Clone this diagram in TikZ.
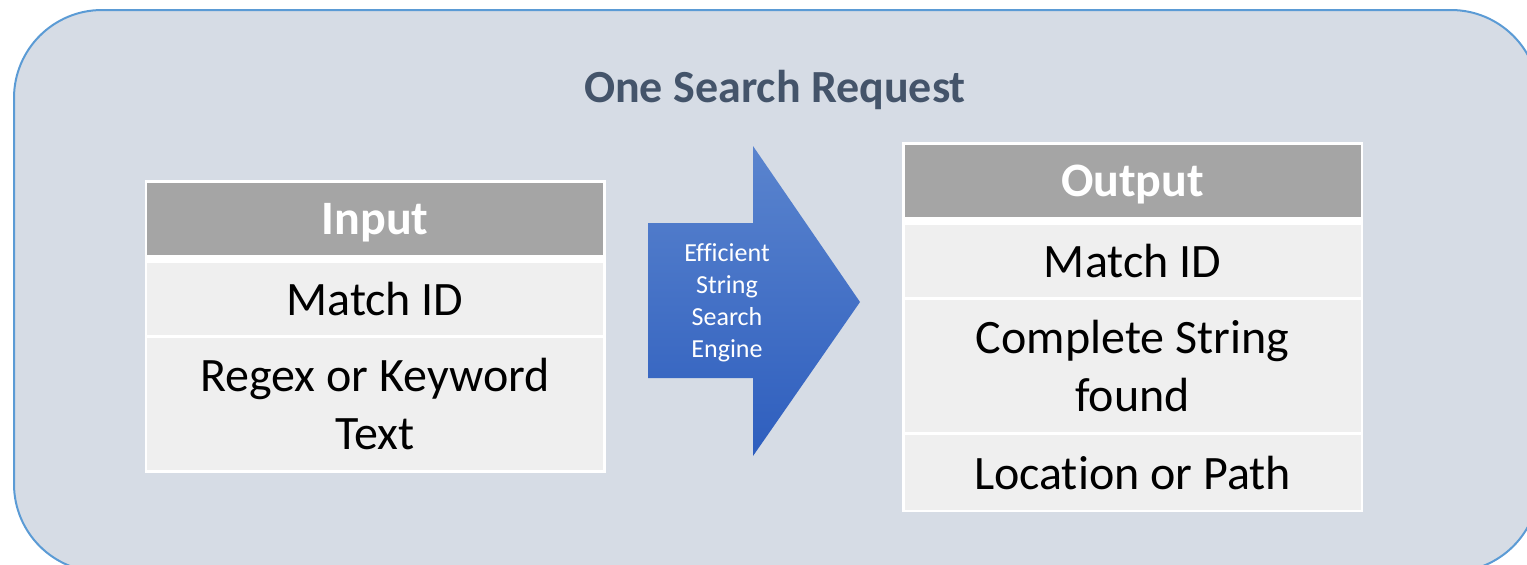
\documentclass[tikz,border=0pt]{standalone}
\usepackage{fontspec}
\setmainfont[Ligatures=CommonOff]{Carlito}
\usetikzlibrary{positioning}

\definecolor{bgfill}{HTML}{D6DCE5}
\definecolor{bgline}{HTML}{5B9BD5}
\definecolor{hdgray}{HTML}{A5A5A5}
\definecolor{rowgray}{HTML}{EFEFEF}
\definecolor{titcol}{HTML}{44546A}
\definecolor{artop}{HTML}{5A84CE}
\definecolor{arbot}{HTML}{2E5EBE}

\tikzstyle{tb0}=[rectangle,fill=white,minimum width=230.5pt,inner sep=0pt]
\tikzstyle{tb1}=[rectangle,fill=hdgray,minimum width=228pt,minimum height=36pt,inner sep=0pt,text depth=0pt,align=center,text=white,font=\fontsize{24}{28.5}\selectfont\bf]
\tikzstyle{tb2}=[rectangle,fill=rowgray,minimum width=228pt,inner sep=0pt,align=center,font=\fontsize{24}{28.5}\selectfont]

\begin{document}
\begin{tikzpicture}[x=0.5pt,y=-0.5pt]
\useasboundingbox (0,0) rectangle (1527,564);

%Outer box and title
\node [rectangle,fill=bgfill,draw=bgline,line width=1pt,rounded corners=44pt,minimum width=762.5pt,minimum height=281pt,anchor=north west] at (13,9) (req) {};
\node [text=titcol,font=\fontsize{23}{28}\selectfont\bf] at (775,90) (tit) {One Search Request};

%Input table
\node [tb0,minimum height=146.5pt] at (375.5,326.5) (inf) {};
\node [tb1] at (375,219) (inh) {Input};
\node [tb2,minimum height=36pt] at (375,299) (in1) {Match ID};
\node [tb2,minimum height=66pt] at (375,404) (in2) {Regex or Keyword\\Text};

%Output table
\node [tb0,minimum height=185pt] at (1132.5,327) (ouf) {};
\node [tb1] at (1132.5,181) (ouh) {Output};
\node [tb2,minimum height=36pt] at (1132.5,261) (ou1) {Match ID};
\node [tb2,minimum height=66pt] at (1132.5,366) (ou2) {Complete String\\found};
\node [tb2,minimum height=37.5pt] at (1132.5,472.5) (ou3) {Location or Path};

%Engine arrow
\shade [top color=artop,bottom color=arbot] (648,223) -- (753,223) -- (753,146) -- (860,302) -- (753,456) -- (753,378) -- (648,378) -- cycle;
\node [text=white,align=center,font=\fontsize{13}{16}\selectfont] at (727,303) (eng) {Efficient\\String\\Search\\Engine};

\end{tikzpicture}
\end{document}
